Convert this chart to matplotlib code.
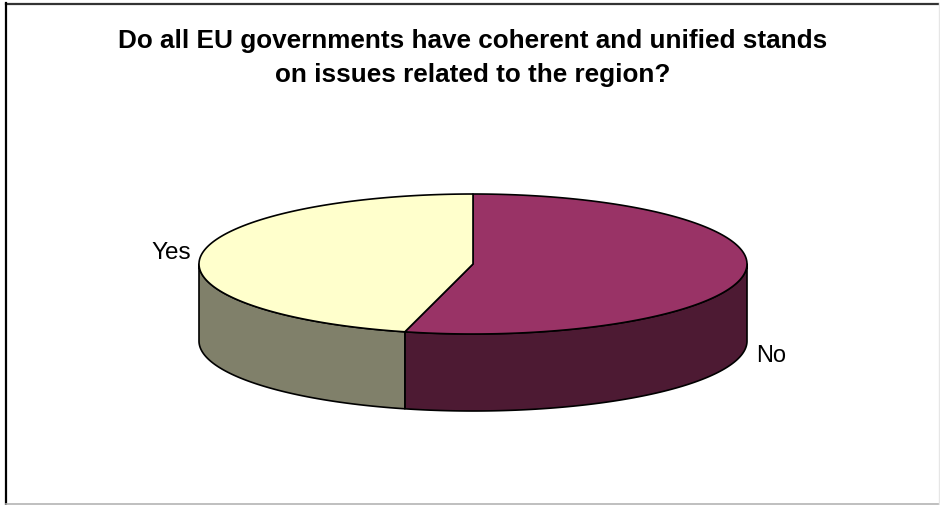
import numpy as np
import matplotlib.pyplot as plt
from matplotlib.patches import Polygon

plt.rcParams['font.family'] = ['Liberation Sans', 'DejaVu Sans']

# Survey answers (percent)
labels = ['No', 'Yes']
shares = [54, 46]
top_colors = ['#993366', '#FFFFCC']
side_colors = ['#4D1A33', '#80806A']

title_lines = ['Do all EU governments have coherent and unified stands',
               'on issues related to the region?']

# pie geometry in pixel units (y grows downwards)
cx, cy = 473, 265
rx, ry = 274, 70
depth = 77

fig = plt.figure(figsize=(9.4, 5.06), dpi=100)
ax = fig.add_axes([0, 0, 1, 1])
ax.set_xlim(0, 940)
ax.set_ylim(506, 0)
ax.axis('off')


def arc(t0, t1, dy=0, n=200):
    t = np.radians(np.linspace(t0, t1, n))
    return np.column_stack([cx + rx * np.cos(t), cy + dy + ry * np.sin(t)])


# slice angles, clockwise from 12 o'clock
bounds = -90 + 360 * np.concatenate([[0], np.cumsum(shares)]) / sum(shares)

# visible side walls (front half only)
for i in range(len(shares)):
    a0, a1 = max(bounds[i], 0), min(bounds[i + 1], 180)
    if a1 <= a0:
        continue
    top = arc(a0, a1)
    bot = arc(a0, a1, dy=depth)[::-1]
    ax.add_patch(Polygon(np.vstack([top, bot]), closed=True,
                         facecolor=side_colors[i], edgecolor='black',
                         linewidth=1.2, joinstyle='round'))

# top faces
for i in range(len(shares)):
    pts = np.vstack([[[cx, cy]], arc(bounds[i], bounds[i + 1])])
    ax.add_patch(Polygon(pts, closed=True, facecolor=top_colors[i],
                         edgecolor='black', linewidth=1.2, joinstyle='round'))

# category labels
ax.text(191, 259, labels[1], ha='right', va='baseline', fontsize=17.5)
ax.text(756, 362, labels[0], ha='left', va='baseline', fontsize=17)

for y, line in zip([48, 82], title_lines):
    ax.text(473, y, line, ha='center', va='baseline', fontsize=18.8,
            fontweight='bold')

# chart frame
ax.plot([6, 938], [4.5, 4.5], color='#333333', linewidth=1.6)
ax.plot([6, 6], [4, 506], color='black', linewidth=1.6)
ax.plot([6, 940], [505, 505], color='#b4b4b4', linewidth=1.2)
ax.plot([939, 939], [4, 506], color='#e6e6e6', linewidth=1.0)

fig.savefig('out.png', dpi=100)
